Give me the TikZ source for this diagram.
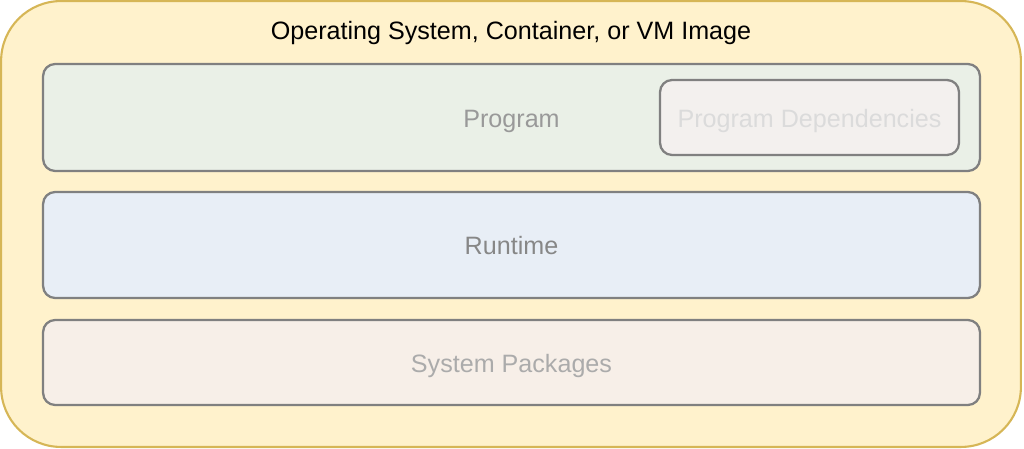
\documentclass[tikz,border=0pt]{standalone}
\usepackage{fontspec}
\setmainfont{Liberation Sans}
\usepackage{xcolor}
\definecolor{os_fill}{HTML}{FFF2CC}
\definecolor{os_line}{HTML}{D6B656}
\definecolor{prog_fill}{HTML}{EAF0E7}
\definecolor{run_fill}{HTML}{E8EEF6}
\definecolor{sys_fill}{HTML}{F7EFE8}
\definecolor{dep_fill}{HTML}{F3F0EE}
\definecolor{box_line}{HTML}{808080}

\tikzset{
	label_font/.style={font=\fontsize{14.3}{17}\selectfont, text height=14pt, text depth=3pt},
	layer/.style={draw=box_line, line width=1.3pt, rounded corners=0.24cm, minimum width=18.74cm, label_font},
}

\begin{document}
\begin{tikzpicture}[x=0.02cm, y=-0.02cm]
	\useasboundingbox (0, 0) rectangle (1024, 449);
	\node[draw=os_line, fill=os_fill, line width=1.2pt, rounded corners=1.2cm, minimum width=20.4cm, minimum height=8.92cm] (os) at (511, 224) {};
	\node[label_font] (title) at (511, 30) {Operating System, Container, or VM Image};
	\node[layer, fill=prog_fill, minimum height=2.14cm, text=black!40] (program) at (511.5, 117.5) {Program};
	\node[layer, fill=dep_fill, minimum width=5.98cm, minimum height=1.5cm, text=black!14] (deps) at (809.5, 117.5) {Program Dependencies};
	\node[layer, fill=run_fill, minimum height=2.12cm, text=black!47] (runtime) at (511.5, 245) {Runtime};
	\node[layer, fill=sys_fill, minimum height=1.7cm, text=black!33] (system) at (511.5, 362.5) {System Packages};
\end{tikzpicture}
\end{document}
